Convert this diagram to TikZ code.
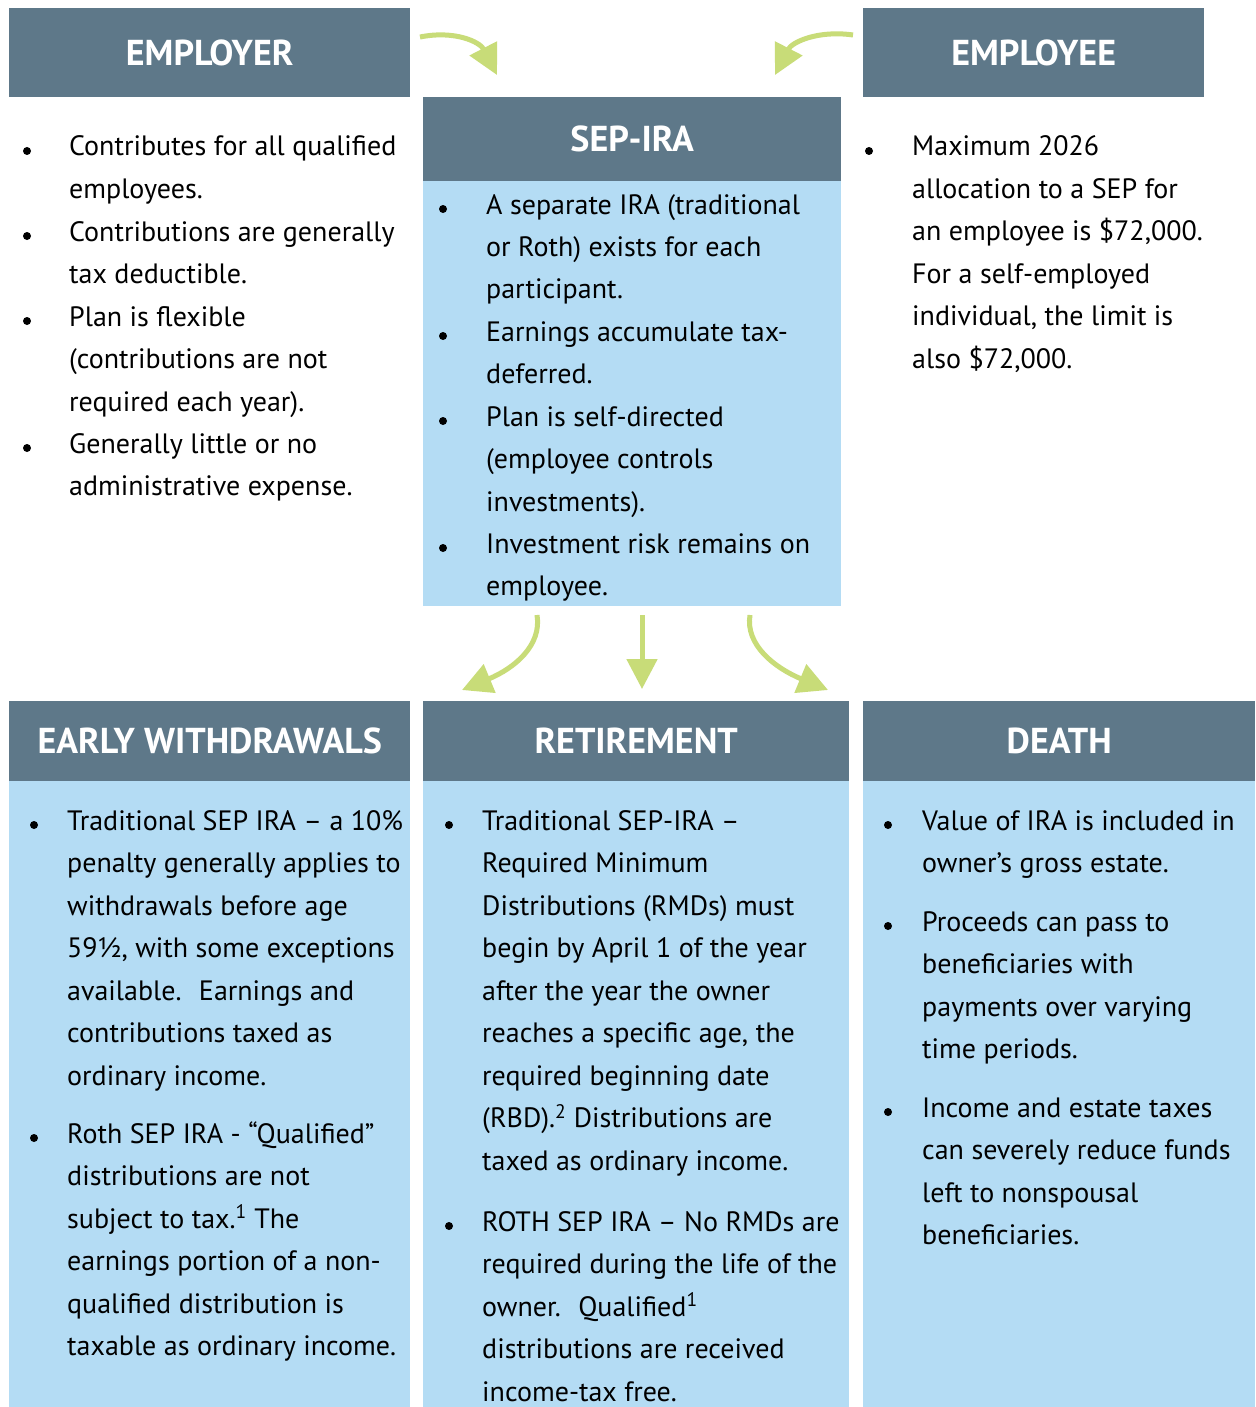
\documentclass[tikz,border=0pt]{standalone}
\usepackage{fontspec}
\setmainfont{PT Sans}
\usetikzlibrary{arrows.meta}
\definecolor{headblue}{HTML}{5E7889}
\definecolor{bodyblue}{HTML}{B4DCF4}
\definecolor{arrowgreen}{HTML}{C8DC78}
\tikzset{
  head/.style={fill=headblue, text=white, anchor=north west, inner sep=0pt,
    font=\bfseries\fontsize{36}{40}\selectfont},
  panel/.style={fill=bodyblue, anchor=north west, inner sep=0pt},
  itm/.style={anchor=base west, inner sep=0pt, font=\fontsize{28}{42.5}\selectfont},
  bul/.style={circle, fill=black, inner sep=0pt, minimum size=8pt},
  flow/.style={arrowgreen, line width=5pt, -{Triangle[length=30pt,width=30pt]}}
}
% bullet item: name, bullet x, text x, first baseline y, lines
\newcommand{\bitem}[5]{%
  \node[bul] (#1dot) at (#2,#4-5) {};
  \node[itm] (#1) at (#3,#4) {\parbox[t]{420pt}{#5}};}
\begin{document}
\begin{tikzpicture}[x=1pt,y=-1pt]
  \path[use as bounding box, fill=white] (0,0) rectangle (1255,1407);

  % top row
  \node[head, minimum width=401pt, minimum height=89pt] (employer) at (9,8) {EMPLOYER};
  \node[head, minimum width=341pt, minimum height=89pt] (employee) at (863,8) {EMPLOYEE};
  \node[head, minimum width=418pt, minimum height=84pt] (sepira) at (423,97) {SEP-IRA};
  \node[panel, minimum width=418pt, minimum height=425pt] (sepbody) at (423,181) {};

  % bottom row
  \node[head, minimum width=401pt, minimum height=80pt] (early) at (9,701) {EARLY WITHDRAWALS};
  \node[head, minimum width=426pt, minimum height=80pt] (retire) at (423,701) {RETIREMENT};
  \node[head, minimum width=392pt, minimum height=80pt] (death) at (863,701) {DEATH};
  \node[panel, minimum width=401pt, minimum height=626pt] (earlybody) at (9,781) {};
  \node[panel, minimum width=426pt, minimum height=626pt] (retirebody) at (423,781) {};
  \node[panel, minimum width=392pt, minimum height=626pt] (deathbody) at (863,781) {};

  % employer
  \bitem{er1}{27}{69}{156}{Contributes for all qualified\\employees.}
  \bitem{er2}{27}{69}{241}{Contributions are generally\\tax deductible.}
  \bitem{er3}{27}{69}{326}{Plan is flexible\\(contributions are not\\required each year).}
  \bitem{er4}{27}{69}{453}{Generally little or no\\administrative expense.}

  % employee
  \bitem{ee1}{869}{912}{156}{Maximum 2026\\allocation to a SEP for\\an employee is \$72,000.\\For a self-employed\\individual, the limit is\\also \$72,000.}

  % sep-ira
  \bitem{sp1}{443}{486}{214}{A separate IRA (traditional\\or Roth) exists for each\\participant.}
  \bitem{sp2}{443}{486}{341}{Earnings accumulate tax-\\deferred.}
  \bitem{sp3}{443}{486}{426}{Plan is self-directed\\(employee controls\\investments).}
  \bitem{sp4}{443}{486}{553}{Investment risk remains on\\employee.}

  % early withdrawals
  \bitem{ew1}{34}{67}{830}{Traditional SEP IRA – a 10\%\\penalty generally applies to\\withdrawals before age\\59½, with some exceptions\\available.~ Earnings and\\contributions taxed as\\ordinary income.}
  \bitem{ew2}{34}{67}{1143}{Roth SEP IRA - “Qualified”\\distributions are not\\subject to tax.\textsuperscript{1} The\\earnings portion of a non-\\qualified distribution is\\taxable as ordinary income.}

  % retirement
  \bitem{rt1}{449}{482}{830}{Traditional SEP-IRA –\\Required Minimum\\Distributions (RMDs) must\\begin by April 1 of the year\\after the year the owner\\reaches a specific age, the\\required beginning date\\(RBD).\textsuperscript{2} Distributions are\\taxed as ordinary income.}
  \bitem{rt2}{449}{482}{1231}{ROTH SEP IRA – No RMDs are\\required during the life of the\\owner.~ Qualified\textsuperscript{1}\\distributions are received\\income-tax free.}

  % death
  \bitem{dt1}{888}{922}{830}{Value of IRA is included in\\owner’s gross estate.}
  \bitem{dt2}{888}{922}{931}{Proceeds can pass to\\beneficiaries with\\payments over varying\\time periods.}
  \bitem{dt3}{888}{922}{1117}{Income and estate taxes\\can severely reduce funds\\left to nonspousal\\beneficiaries.}

  % arrows
  \coordinate (ina) at (420,37);
  \coordinate (inaend) at (497,75);
  \coordinate (inb) at (853,35);
  \coordinate (inbend) at (775,75);
  \coordinate (outa) at (537,615);
  \coordinate (outaend) at (462,690);
  \coordinate (outb) at (642,615);
  \coordinate (outbend) at (642,689);
  \coordinate (outc) at (750,615);
  \coordinate (outcend) at (828,690);
  \draw[flow] (ina) .. controls (455,30) and (480,42) .. (inaend);
  \draw[flow] (inb) .. controls (818,30) and (792,42) .. (inbend);
  \draw[flow] (outa) .. controls (542,645) and (515,668) .. (outaend);
  \draw[flow] (outb) -- (outbend);
  \draw[flow] (outc) .. controls (745,645) and (775,668) .. (outcend);
\end{tikzpicture}
\end{document}
